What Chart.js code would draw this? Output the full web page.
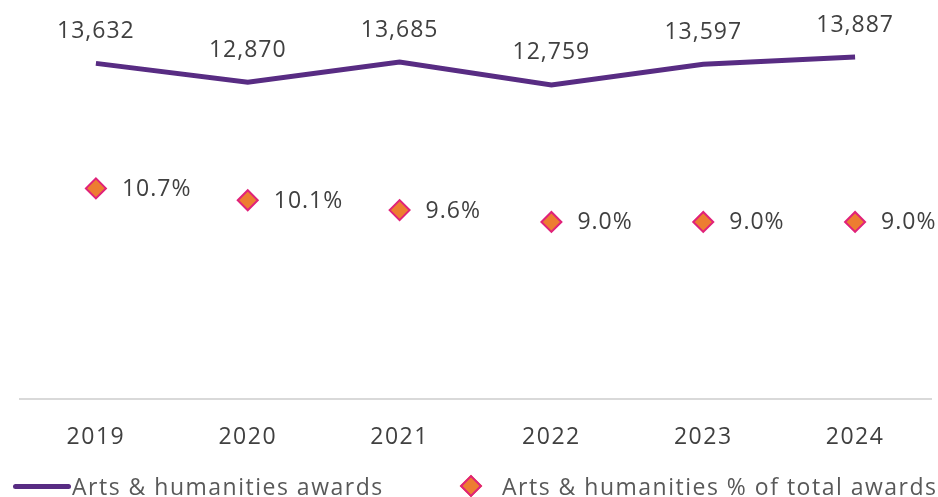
<!DOCTYPE html>
<html>
<head>
<meta charset="utf-8">
<script src="https://cdn.jsdelivr.net/npm/chart.js@4/dist/chart.umd.min.js"></script>
<style>
    body { margin: 0; background: #fff; font-family: "Open Sans", sans-serif; }
    #wrap { position: relative; width: 938px; height: 497px; }
    #legend { position: absolute; left: 0; top: 474px; width: 938px; height: 24px; font-size: 23px; letter-spacing: 1.5px; color: #595959; }
    .item { position: absolute; top: 0; display: flex; align-items: center; white-space: nowrap; line-height: 24px; }
    .swatch-line { width: 58px; height: 5px; border-radius: 3px; background: #582c83; margin-right: 1px; }
    .swatch-diamond { width: 12px; height: 12px; transform: rotate(45deg); background: #ed7d31; border: 2px solid #e0227a; margin-right: 23px; }
</style>
</head>
<body>
<div id="wrap">
    <canvas id="awardsChart" width="938" height="497"></canvas>
    <div id="legend">
        <div class="item" style="left: 13px;"><span class="swatch-line"></span>Arts &amp; humanities awards</div>
        <div class="item" style="left: 463px;"><span class="swatch-diamond"></span>Arts &amp; humanities % of total awards</div>
    </div>
</div>
<script>
const years = ["2019", "2020", "2021", "2022", "2023", "2024"];
const awards = [13632, 12870, 13685, 12759, 13597, 13887];
const sharePct = [10.7, 10.1, 9.6, 9.0, 9.0, 9.0];

const labelColor = "#404040";
const labelFont = "23px 'Open Sans', sans-serif";

// a little tracking on all canvas text, set before the axes draw
const textSpacing = {
    id: "textSpacing",
    beforeDraw(chart) {
        chart.ctx.letterSpacing = "1.5px";
    }
};

// value labels: above the line, to the right of the diamonds
const valueLabels = {
    id: "valueLabels",
    afterDatasetsDraw(chart) {
        const ctx = chart.ctx;
        ctx.save();
        ctx.font = labelFont;
        ctx.fillStyle = labelColor;
        ctx.letterSpacing = "1px";

        chart.getDatasetMeta(0).data.forEach((pt, i) => {
            ctx.textAlign = "center";
            ctx.textBaseline = "middle";
            ctx.fillText(awards[i].toLocaleString("en-US"), pt.x, pt.y - 32);
        });

        chart.getDatasetMeta(1).data.forEach((pt, i) => {
            ctx.textAlign = "left";
            ctx.textBaseline = "middle";
            ctx.fillText(sharePct[i].toFixed(1) + "%", pt.x + 26, pt.y + 1);
        });
        ctx.restore();
    }
};

new Chart(document.getElementById("awardsChart"), {
    type: "line",
    data: {
        labels: years,
        datasets: [{
            label: "Arts & humanities awards",
            data: awards,
            yAxisID: "y",
            borderColor: "#582c83",
            borderWidth: 5,
            pointRadius: 0,
            tension: 0
        }, {
            label: "Arts & humanities % of total awards",
            data: sharePct,
            yAxisID: "y1",
            showLine: false,
            pointStyle: "rectRot",
            pointRadius: 10,
            pointBorderWidth: 2,
            pointBackgroundColor: "#ed7d31",
            pointBorderColor: "#e0227a"
        }]
    },
    options: {
        responsive: false,
        animation: false,
        layout: { autoPadding: false, padding: { top: 5, left: 20, right: 7, bottom: 22 } },
        plugins: {
            legend: { display: false },
            tooltip: { enabled: false }
        },
        scales: {
            x: {
                offset: true,
                grid: { display: false, drawTicks: false },
                border: { display: true, color: "#d9d9d9", width: 2 },
                ticks: { color: labelColor, font: { family: "'Open Sans'", size: 23 }, padding: 24 }
            },
            y: { display: false, min: 0, max: 16000 },
            y1: { display: false, min: 0, max: 20, position: "right" }
        }
    },
    plugins: [textSpacing, valueLabels]
});
</script>
</body>
</html>
